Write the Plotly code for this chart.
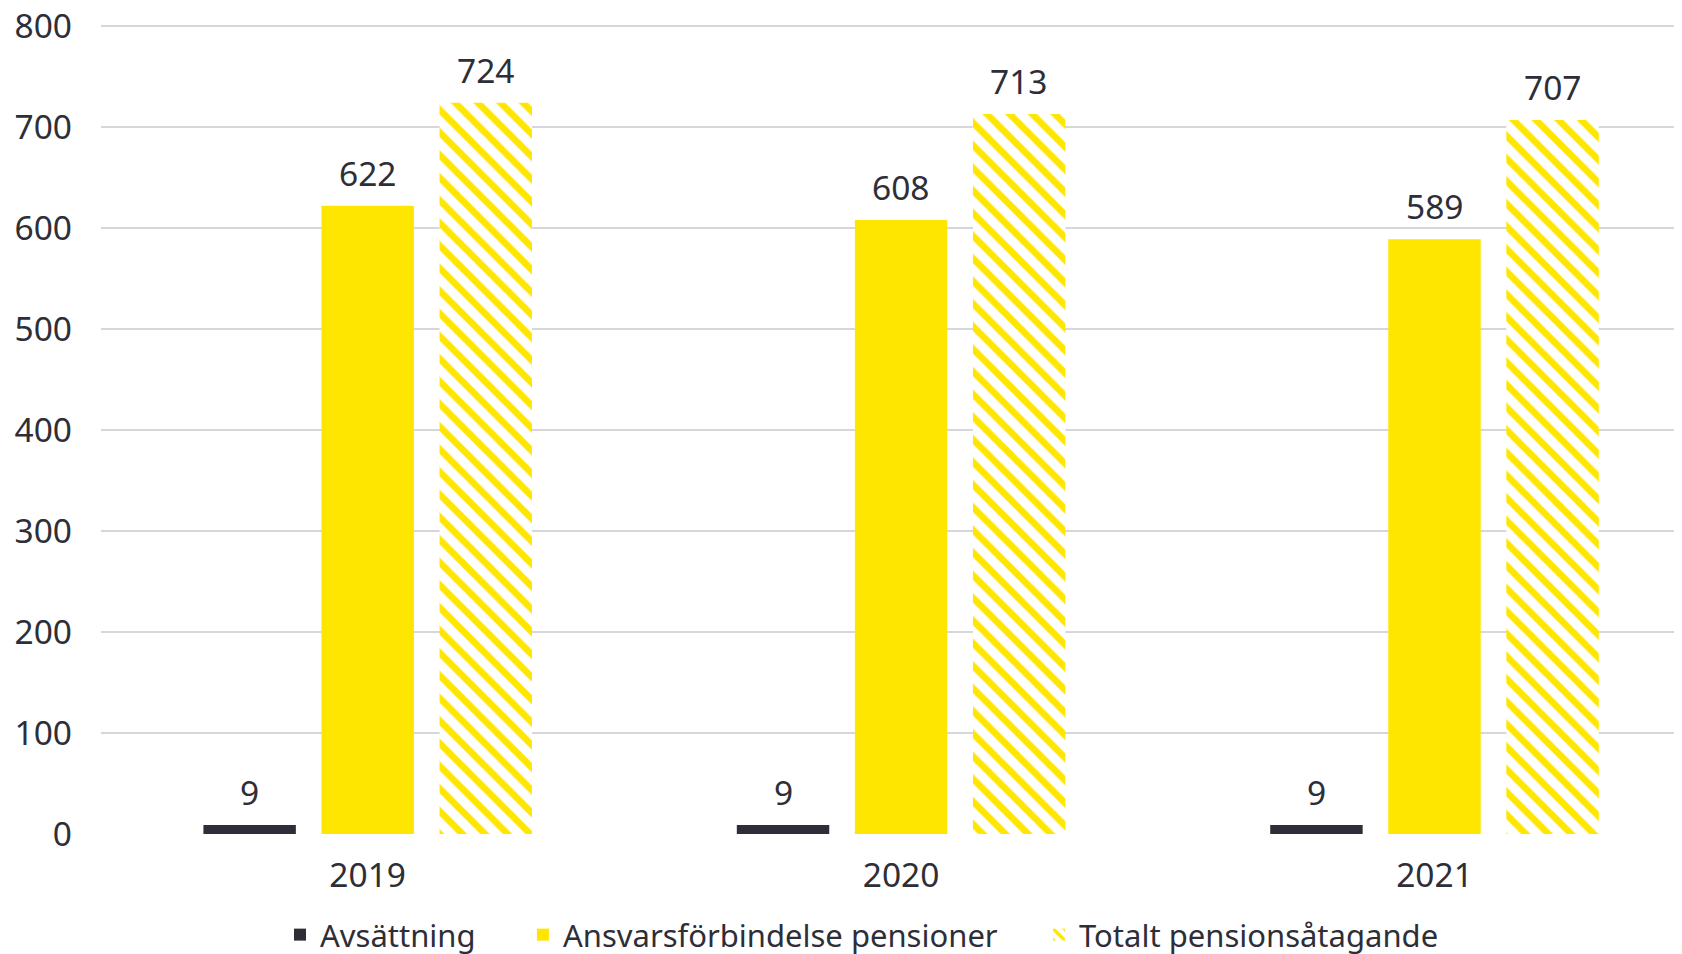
import plotly.graph_objects as go

years = ["2019", "2020", "2021"]
avsattning = [9, 9, 9]
ansvars = [622, 608, 589]
totalt = [724, 713, 707]
series_names = ["Avsättning", "Ansvarsförbindelse pensioner", "Totalt pensionsåtagande"]
y_ticks = [0, 100, 200, 300, 400, 500, 600, 700, 800]

DARK = "#2E2E38"
YELLOW = "#FFE600"
FONT = "Noto Sans"
FS_NUM = 33.5
FS_LEG = 31

BARGAP = 0.336
GROUPGAP = 0.217

fig = go.Figure()
fig.add_trace(go.Bar(x=years, y=avsattning, name=series_names[0], legend="legend",
                     marker=dict(color=DARK, line=dict(width=0))))
fig.add_trace(go.Bar(x=years, y=ansvars, name=series_names[1], legend="legend2",
                     marker=dict(color=YELLOW, line=dict(width=0))))
fig.add_trace(go.Bar(x=years, y=totalt, name=series_names[2], legend="legend3",
                     marker=dict(color=YELLOW, line=dict(width=0),
                                 pattern=dict(shape="\\", fgcolor=YELLOW, bgcolor="white",
                                              size=16, solidity=0.42, fillmode="replace"))))

# value labels above bars
slot = (1 - BARGAP) / 3
for j, vals in enumerate([avsattning, ansvars, totalt]):
    for i, v in enumerate(vals):
        fig.add_annotation(x=i + (j - 1) * slot, y=v, xref="x", yref="y",
                           text=str(v), showarrow=False, yanchor="bottom",
                           yshift=8, font=dict(family=FONT, size=FS_NUM, color=DARK))

leg_common = dict(orientation="h", xanchor="left", xref="container",
                  y=0.0344, yanchor="middle", yref="container",
                  font=dict(family=FONT, size=FS_LEG, color=DARK), itemclick=False,
                  bgcolor="rgba(0,0,0,0)")

fig.update_layout(
    width=1674, height=960,
    margin=dict(l=93, r=0, t=12, b=134, autoexpand=False),
    paper_bgcolor="white", plot_bgcolor="white",
    barmode="group", bargap=BARGAP, bargroupgap=GROUPGAP,
    font=dict(family=FONT, size=FS_NUM, color=DARK),
    showlegend=True,
    legend=dict(x=0.1625, **leg_common),
    legend2=dict(x=0.3076, **leg_common),
    legend3=dict(x=0.6159, **leg_common),
    xaxis=dict(type="category", range=[-0.5, 2.464], showgrid=False, zeroline=False,
               showline=False, ticks="", ticklabelstandoff=18, automargin=False,
               tickfont=dict(family=FONT, size=FS_NUM, color=DARK)),
    yaxis=dict(range=[0, 806], tickvals=y_ticks, showgrid=True, gridcolor="#D6D6DC",
               gridwidth=2, zeroline=True, zerolinecolor="white", zerolinewidth=2,
               showline=False, ticks="", ticklabelstandoff=28, automargin=False,
               ticklabeloverflow="allow",
               tickfont=dict(family=FONT, size=FS_NUM, color=DARK)),
)

fig.write_html("out.html")
